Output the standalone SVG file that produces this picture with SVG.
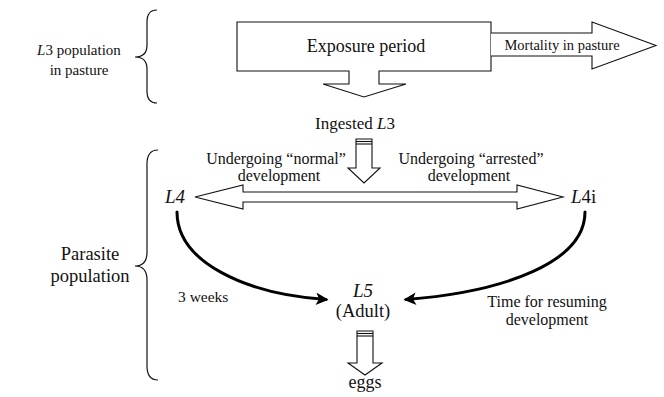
<svg xmlns="http://www.w3.org/2000/svg" width="664" height="397" viewBox="0 0 664 397" font-family="'Liberation Serif', 'Times New Roman', serif">
<style>
text{font-family:'Liberation Serif','Times New Roman',serif;fill:#111}
.c{text-anchor:middle}
.i{font-style:italic}
.o{fill:#fff;stroke:#111;stroke-width:1.1;stroke-linejoin:miter}
.br{fill:none;stroke:#111;stroke-width:1.2}
.cv{fill:none;stroke:#000;stroke-width:3;stroke-linecap:round}
.ln{stroke:#111;stroke-width:1.1}
</style>
<defs>
<marker id="ah" viewBox="0 0 10 10" refX="8" refY="5" markerWidth="5" markerHeight="4.2" orient="auto" markerUnits="strokeWidth">
<path d="M0,0 L10,5 L0,10 L2.5,5 Z" fill="#000"/>
</marker>
</defs>
<rect width="664" height="397" fill="#fff"/>

<g id="brace-pasture">
<path class="br" d="M157,10 Q147,10 147,22 L147,45 Q147,57 135,57 Q147,57 147,69 L147,91 Q147,103 157,103"/>
<text class="c" x="79" y="55" font-size="15"><tspan class="i">L</tspan>3 population</text>
<text class="c" x="79" y="75" font-size="15">in pasture</text>
</g>

<g id="exposure">
<path class="o" d="M349,71 L237,71 L237,22 L491,22 L491,71 L379,71 L379,84 L406,84 L364,97 L323,84 L349,84 Z"/>
<text class="c" x="366" y="52" font-size="18">Exposure period</text>
</g>

<g id="mortality">
<path class="o" d="M491,33 L592,33 L592,22 L656,45.5 L592,69 L592,56 L491,56"/>
<text class="c" x="562" y="50" font-size="14.5">Mortality in pasture</text>
</g>

<g id="ingested">
<text class="c" x="355" y="129" font-size="17">Ingested <tspan class="i">L</tspan>3</text>
<path class="o" d="M356,168 L356,139 L372,139 L372,168 L380,168 L364,183 L348,168 Z"/>
<line class="ln" x1="356" y1="141.5" x2="372" y2="141.5"/>
<line class="ln" x1="356" y1="144" x2="372" y2="144"/>
</g>

<g id="labels-dev">
<text class="c" x="276" y="164" font-size="16">Undergoing “normal”</text>
<text class="c" x="279" y="181" font-size="16">development</text>
<text class="c" x="471" y="164" font-size="16">Undergoing “arrested”</text>
<text class="c" x="469" y="181" font-size="16">development</text>
</g>

<g id="double-arrow">
<path class="o" d="M195,197 L243,185 L243,192 L517,192 L517,185 L563,197 L517,209 L517,202 L243,202 L243,209 Z"/>
</g>

<g id="L4">
<text x="165" y="203" font-size="19" class="i">L4</text>
</g>
<g id="L4i">
<text x="571" y="203" font-size="19"><tspan class="i">L</tspan>4i</text>
</g>

<g id="connectors">
<path class="cv" d="M177,212 C177,262 245,294 326,299.5" marker-end="url(#ah)"/>
<path class="cv" d="M585,212 C585,262 505,292 406,299.5" marker-end="url(#ah)"/>
</g>

<g id="L5">
<text class="c i" x="363" y="297" font-size="19">L5</text>
<text class="c" x="363" y="317" font-size="18.5">(Adult)</text>
</g>

<g id="eggs">
<path class="o" d="M357,363 L357,331 L373,331 L373,363 L382,363 L365,375 L348,363 Z"/>
<line class="ln" x1="357" y1="333.5" x2="373" y2="333.5"/>
<line class="ln" x1="357" y1="336" x2="373" y2="336"/>
<text class="c" x="365" y="388" font-size="18">eggs</text>
</g>

<g id="time-labels">
<text x="178" y="302" font-size="15.5">3 weeks</text>
<text class="c" x="547" y="307" font-size="16">Time for resuming</text>
<text class="c" x="547" y="325" font-size="16">development</text>
</g>

<g id="brace-parasite">
<path class="br" d="M158,150 Q147,150 147,164 L147,252 Q147,266 135,266 Q147,266 147,280 L147,366 Q147,380 158,380"/>
<text class="c" x="90" y="260" font-size="18.5">Parasite</text>
<text class="c" x="90" y="282" font-size="18.5">population</text>
</g>
</svg>
